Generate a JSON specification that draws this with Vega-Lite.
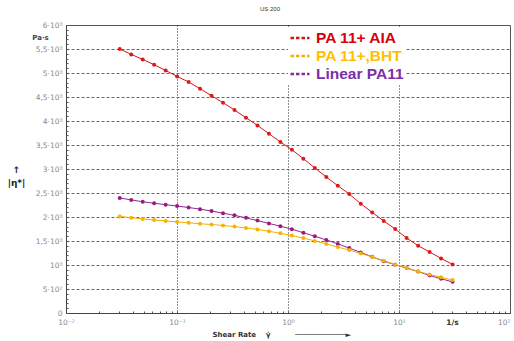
{
  "$schema": "https://vega.github.io/schema/vega-lite/v6.json",
  "width": 444,
  "height": 288,
  "autosize": {"type": "none"},
  "padding": {"left": 66, "top": 25, "right": 4, "bottom": 28},
  "background": "white",
  "title": {"text": "US 200", "fontSize": 6, "font": "Liberation Sans", "color": "#333", "fontWeight": "normal", "offset": 9, "dx": -18, "anchor": "middle"},
  "config": {"view": {"stroke": "#555", "strokeWidth": 1}, "font": "Liberation Sans"},
  "data": {"values": [
    {"x": 0.0305, "y": 5500, "series": "PA 11+ AIA"},
    {"x": 0.0387, "y": 5388, "series": "PA 11+ AIA"},
    {"x": 0.0491, "y": 5283, "series": "PA 11+ AIA"},
    {"x": 0.0622, "y": 5173, "series": "PA 11+ AIA"},
    {"x": 0.079, "y": 5054, "series": "PA 11+ AIA"},
    {"x": 0.1002, "y": 4929, "series": "PA 11+ AIA"},
    {"x": 0.1272, "y": 4813, "series": "PA 11+ AIA"},
    {"x": 0.1613, "y": 4673, "series": "PA 11+ AIA"},
    {"x": 0.2047, "y": 4527, "series": "PA 11+ AIA"},
    {"x": 0.2598, "y": 4381, "series": "PA 11+ AIA"},
    {"x": 0.3296, "y": 4229, "series": "PA 11+ AIA"},
    {"x": 0.4182, "y": 4069, "series": "PA 11+ AIA"},
    {"x": 0.5307, "y": 3908, "series": "PA 11+ AIA"},
    {"x": 0.6734, "y": 3735, "series": "PA 11+ AIA"},
    {"x": 0.8545, "y": 3563, "series": "PA 11+ AIA"},
    {"x": 1.084, "y": 3402, "series": "PA 11+ AIA"},
    {"x": 1.375, "y": 3215, "series": "PA 11+ AIA"},
    {"x": 1.745, "y": 3021, "series": "PA 11+ AIA"},
    {"x": 2.214, "y": 2833, "series": "PA 11+ AIA"},
    {"x": 2.809, "y": 2652, "series": "PA 11+ AIA"},
    {"x": 3.565, "y": 2479, "series": "PA 11+ AIA"},
    {"x": 4.523, "y": 2277, "series": "PA 11+ AIA"},
    {"x": 5.739, "y": 2096, "series": "PA 11+ AIA"},
    {"x": 7.282, "y": 1917, "series": "PA 11+ AIA"},
    {"x": 9.239, "y": 1750, "series": "PA 11+ AIA"},
    {"x": 11.72, "y": 1563, "series": "PA 11+ AIA"},
    {"x": 14.87, "y": 1402, "series": "PA 11+ AIA"},
    {"x": 18.87, "y": 1271, "series": "PA 11+ AIA"},
    {"x": 23.94, "y": 1138, "series": "PA 11+ AIA"},
    {"x": 30.38, "y": 1013, "series": "PA 11+ AIA"},
    {"x": 0.0305, "y": 2396, "series": "Linear PA11"},
    {"x": 0.0387, "y": 2356, "series": "Linear PA11"},
    {"x": 0.0491, "y": 2318, "series": "Linear PA11"},
    {"x": 0.0622, "y": 2286, "series": "Linear PA11"},
    {"x": 0.079, "y": 2257, "series": "Linear PA11"},
    {"x": 0.1002, "y": 2228, "series": "Linear PA11"},
    {"x": 0.1272, "y": 2198, "series": "Linear PA11"},
    {"x": 0.1613, "y": 2164, "series": "Linear PA11"},
    {"x": 0.2047, "y": 2124, "series": "Linear PA11"},
    {"x": 0.2598, "y": 2080, "series": "Linear PA11"},
    {"x": 0.3296, "y": 2034, "series": "Linear PA11"},
    {"x": 0.4182, "y": 1982, "series": "Linear PA11"},
    {"x": 0.5307, "y": 1925, "series": "Linear PA11"},
    {"x": 0.6734, "y": 1866, "series": "Linear PA11"},
    {"x": 0.8545, "y": 1808, "series": "Linear PA11"},
    {"x": 1.084, "y": 1746, "series": "Linear PA11"},
    {"x": 1.375, "y": 1672, "series": "Linear PA11"},
    {"x": 1.745, "y": 1598, "series": "Linear PA11"},
    {"x": 2.214, "y": 1523, "series": "Linear PA11"},
    {"x": 2.809, "y": 1440, "series": "Linear PA11"},
    {"x": 3.565, "y": 1352, "series": "Linear PA11"},
    {"x": 4.523, "y": 1262, "series": "Linear PA11"},
    {"x": 5.739, "y": 1170, "series": "Linear PA11"},
    {"x": 7.282, "y": 1080, "series": "Linear PA11"},
    {"x": 9.239, "y": 1006, "series": "Linear PA11"},
    {"x": 11.72, "y": 936, "series": "Linear PA11"},
    {"x": 14.87, "y": 862, "series": "Linear PA11"},
    {"x": 18.87, "y": 782, "series": "Linear PA11"},
    {"x": 23.94, "y": 712, "series": "Linear PA11"},
    {"x": 30.38, "y": 650, "series": "Linear PA11"},
    {"x": 0.0305, "y": 2013, "series": "PA 11+,BHT"},
    {"x": 0.0387, "y": 1985, "series": "PA 11+,BHT"},
    {"x": 0.0491, "y": 1960, "series": "PA 11+,BHT"},
    {"x": 0.0622, "y": 1938, "series": "PA 11+,BHT"},
    {"x": 0.079, "y": 1918, "series": "PA 11+,BHT"},
    {"x": 0.1002, "y": 1898, "series": "PA 11+,BHT"},
    {"x": 0.1272, "y": 1878, "series": "PA 11+,BHT"},
    {"x": 0.1613, "y": 1860, "series": "PA 11+,BHT"},
    {"x": 0.2047, "y": 1843, "series": "PA 11+,BHT"},
    {"x": 0.2598, "y": 1823, "series": "PA 11+,BHT"},
    {"x": 0.3296, "y": 1800, "series": "PA 11+,BHT"},
    {"x": 0.4182, "y": 1773, "series": "PA 11+,BHT"},
    {"x": 0.5307, "y": 1742, "series": "PA 11+,BHT"},
    {"x": 0.6734, "y": 1703, "series": "PA 11+,BHT"},
    {"x": 0.8545, "y": 1660, "series": "PA 11+,BHT"},
    {"x": 1.084, "y": 1614, "series": "PA 11+,BHT"},
    {"x": 1.375, "y": 1560, "series": "PA 11+,BHT"},
    {"x": 1.745, "y": 1502, "series": "PA 11+,BHT"},
    {"x": 2.214, "y": 1440, "series": "PA 11+,BHT"},
    {"x": 2.809, "y": 1374, "series": "PA 11+,BHT"},
    {"x": 3.565, "y": 1310, "series": "PA 11+,BHT"},
    {"x": 4.523, "y": 1240, "series": "PA 11+,BHT"},
    {"x": 5.739, "y": 1168, "series": "PA 11+,BHT"},
    {"x": 7.282, "y": 1090, "series": "PA 11+,BHT"},
    {"x": 9.239, "y": 1010, "series": "PA 11+,BHT"},
    {"x": 11.72, "y": 940, "series": "PA 11+,BHT"},
    {"x": 14.87, "y": 865, "series": "PA 11+,BHT"},
    {"x": 18.87, "y": 802, "series": "PA 11+,BHT"},
    {"x": 23.94, "y": 745, "series": "PA 11+,BHT"},
    {"x": 30.38, "y": 685, "series": "PA 11+,BHT"}
  ]},
  "layer": [
    {
      "mark": {"type": "line", "strokeWidth": 1},
      "encoding": {
        "x": {
          "field": "x", "type": "quantitative",
          "scale": {"type": "log", "domain": [0.01, 100]},
          "axis": {
            "values": [0.01,0.02,0.03,0.04,0.05,0.06,0.07,0.08,0.09,0.1,0.2,0.3,0.4,0.5,0.6,0.7,0.8,0.9,1,2,3,4,5,6,7,8,9,10,20,30,40,50,60,70,80,90,100],
            "tickCount": 200,
            "labelExpr": "datum.value==0.01?'10⁻²':datum.value==0.1?'10⁻¹':datum.value==1?'10⁰':datum.value==10?'10¹':datum.value==100?'10²':datum.value==30?'1/s':''",
            "labelFlush": false,
            "labelOverlap": false,
            "labelAlign": {"condition": {"test": "datum.value==100", "value": "right"}, "value": "center"},
            "labelFont": "DejaVu Sans",
            "labelFontSize": 7.5,
            "labelColor": {"condition": {"test": "datum.value==30", "value": "#333"}, "value": "#888"},
            "labelFontWeight": {"condition": {"test": "datum.value==30", "value": "bold"}, "value": "normal"},
            "labelPadding": 7,
            "tickSize": -2,
            "tickColor": "#555",
            "domainColor": "#444",
            "grid": true,
            "gridColor": "#222",
            "gridDash": [1, 2],
            "gridOpacity": {"condition": {"test": "datum.value==0.1||datum.value==1||datum.value==10", "value": 1}, "value": 0},
            "title": "Shear Rate\u00a0\u00a0\u00a0 γ̇\u00a0\u00a0\u00a0\u00a0\u00a0\u00a0\u00a0\u00a0\u00a0 ────────────►",
            "titleFont": "DejaVu Sans",
            "titleFontSize": 7,
            "titleFontWeight": "bold",
            "titleColor": "#333",
            "titleAlign": "left",
            "titleBaseline": "alphabetic",
            "titleX": 146,
            "titleY": 23
          }
        },
        "y": {
          "field": "y", "type": "quantitative",
          "scale": {"domain": [0, 6000]},
          "axis": {
            "values": [0,100,200,300,400,500,600,700,800,900,1000,1100,1200,1300,1400,1500,1600,1700,1800,1900,2000,2100,2200,2300,2400,2500,2600,2700,2800,2900,3000,3100,3200,3300,3400,3500,3600,3700,3800,3900,4000,4100,4200,4300,4400,4500,4600,4700,4800,4900,5000,5100,5200,5300,5400,5500,5600,5700,5800,5900,6000],
            "tickCount": 200,
            "labelExpr": "datum.value%500!=0?'':datum.value==0?'0':datum.value==1000?'10³':datum.value==500?'5·10²':replace(format(datum.value/1000,'.1~f'),'.',',')+'·10³'",
            "labelFlush": false,
            "labelOverlap": false,
            "labelFont": "DejaVu Sans",
            "labelFontSize": 7.5,
            "labelColor": "#888",
            "labelPadding": 6,
            "tickSize": -2,
            "tickColor": "#555",
            "domainColor": "#444",
            "grid": true,
            "gridColor": "#666",
            "gridDash": [3, 2],
            "gridOpacity": {"condition": {"test": "datum.value%500==0 && datum.value>0 && datum.value<6000", "value": 1}, "value": 0},
            "title": "Pa·s",
            "titleFont": "DejaVu Sans",
            "titleAngle": 0,
            "titleX": -26,
            "titleY": 12,
            "titleFontSize": 7,
            "titleFontWeight": "bold",
            "titleColor": "#444",
            "titleAlign": "center",
            "titleBaseline": "middle"
          }
        },
        "color": {
          "field": "series", "type": "nominal",
          "scale": {"domain": ["PA 11+ AIA", "PA 11+,BHT", "Linear PA11"], "range": ["#d01818", "#f2b000", "#8a2a9a"]},
          "legend": {
            "orient": "none",
            "legendX": 222,
            "legendY": 3,
            "title": null,
            "symbolType": "stroke",
            "symbolSize": 361,
            "symbolStrokeWidth": 2.5,
            "symbolDash": [3.5, 2],
            "labelFont": "Liberation Sans",
            "labelFontSize": 15.5,
            "labelFontWeight": "bold",
            "labelColor": {"expr": "datum.value=='PA 11+ AIA'?'#d6000c':datum.value=='PA 11+,BHT'?'#ffbf00':'#7a30a8'"},
            "labelOffset": 5,
            "labelLimit": 300,
            "rowPadding": 0,
            "clipHeight": 18,
            "fillColor": "white",
            "padding": 1
          }
        }
      }
    },
    {
      "mark": {"type": "point", "filled": true, "size": 16, "opacity": 1},
      "encoding": {
        "x": {
          "field": "x", "type": "quantitative",
          "axis": {
            "orient": "top", "labels": false, "ticks": false, "domain": false, "grid": false,
            "title": ["↑", "|η*|"],
            "titleFont": "DejaVu Sans",
            "titleX": -50, "titleY": 144, "titleAngle": 0,
            "titleFontSize": 9, "titleFontWeight": "bold", "titleColor": "#222",
            "titleLineHeight": 13,
            "titleAlign": "center", "titleBaseline": "middle"
          }
        },
        "y": {"field": "y", "type": "quantitative"},
        "fill": {
          "field": "series", "type": "nominal",
          "scale": {"domain": ["PA 11+ AIA", "PA 11+,BHT", "Linear PA11"], "range": ["#e01818", "#f5b400", "#a0187e"]},
          "legend": null
        }
      }
    }
  ],
  "resolve": {"axis": {"x": "independent"}}
}
